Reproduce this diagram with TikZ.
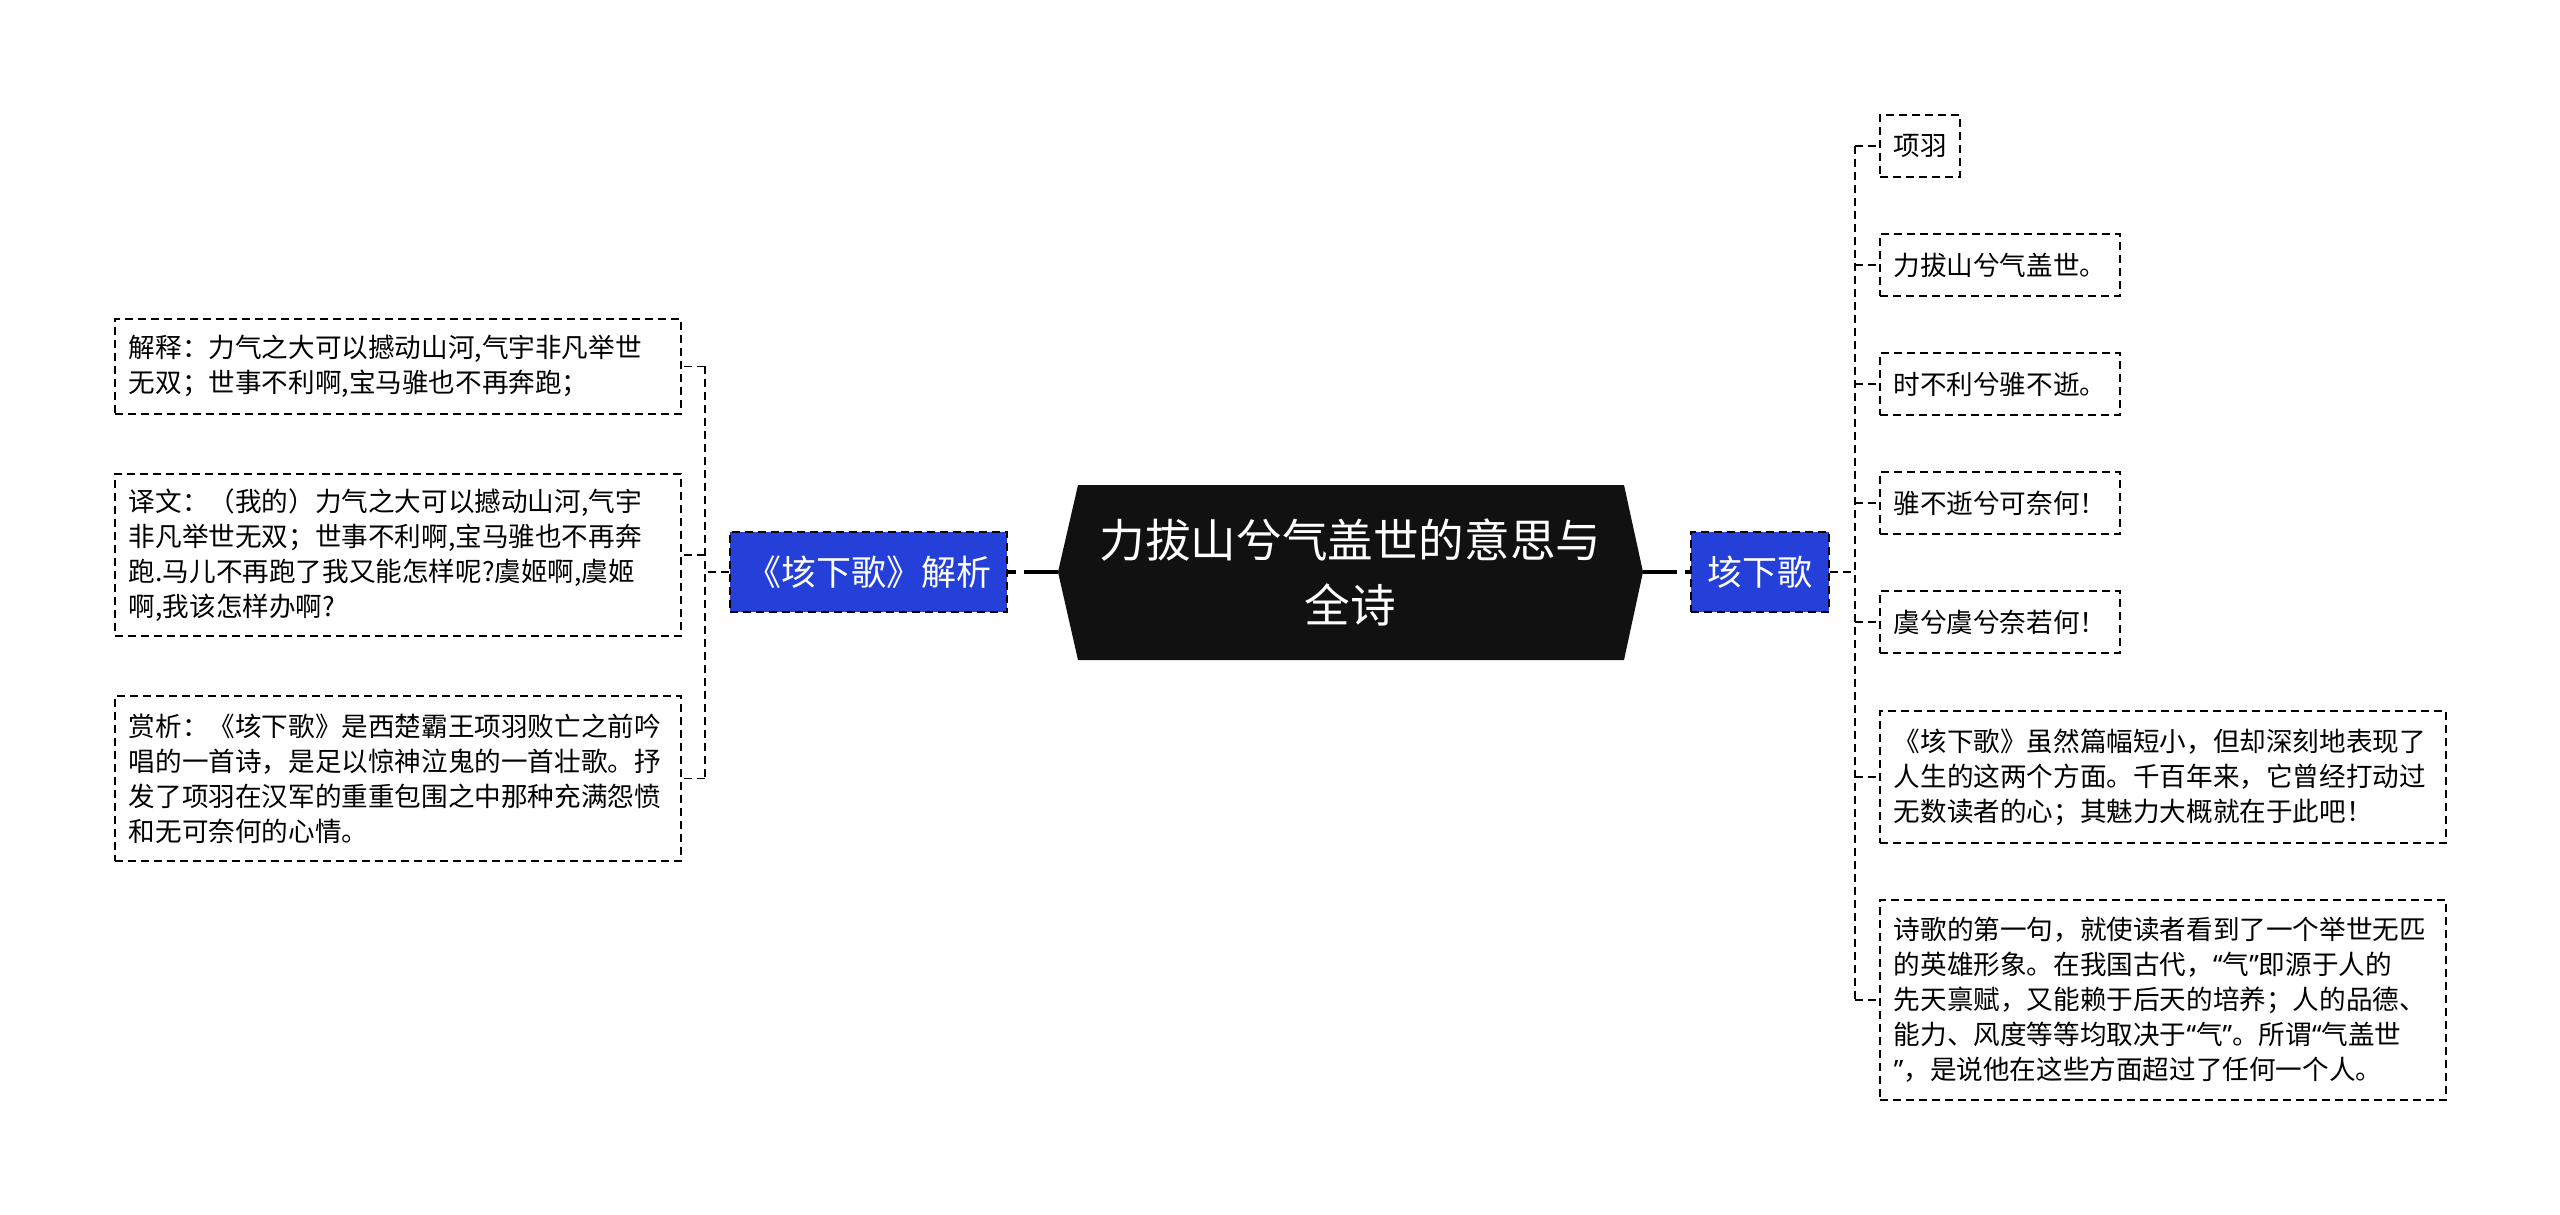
\documentclass[tikz,border=0pt]{standalone}
\usepackage{fontspec}
\setmainfont{Noto Sans CJK SC}
\newfontfamily\quotefont{Noto Sans}
\newcommand\qopen{{\quotefont “}}
\newcommand\qclose{{\quotefont ”}}
\definecolor{topicblue}{RGB}{36,64,216}
\definecolor{rootblack}{RGB}{17,17,17}
\tikzset{
  root/.style={minimum width=292.5pt, minimum height=87.5pt, inner sep=0pt, text=white, align=center,
    font=\fontsize{22.8}{32.5}\selectfont},
  topic/.style={draw, fill=topicblue, dash pattern=on 4pt off 2.5pt, line width=0.9pt, text=white,
    minimum height=40pt, inner sep=0pt, font=\fontsize{17.5}{22}\selectfont},
  verse/.style={draw, dash pattern=on 4pt off 2.5pt, line width=0.9pt, inner xsep=6.75pt, inner ysep=0pt,
    minimum height=31pt, font=\fontsize{13.3}{17.5}\selectfont},
  note/.style={verse, anchor=north west, text width=269pt, inner xsep=7pt, align=left},
  link/.style={dash pattern=on 4pt off 2.5pt, line width=0.9pt},
  trunk/.style={dash pattern=on 17pt off 4pt, line width=1.6pt},
}
\begin{document}
\begin{tikzpicture}[x=0.5pt, y=-0.5pt]
    \useasboundingbox (0,0) rectangle (2560,1215);
    % centre
    \fill[rootblack] (1058,572) -- (1078,485) -- (1624,485) -- (1643,572) -- (1624,660) -- (1078,660) -- cycle;
    \node[root] (root) at (1350.5,572) {力拔山兮气盖世的意思与\\全诗};
    \node[topic, minimum width=138.5pt] (analysis) at (868.5,572) {《垓下歌》解析};
    \node[topic, minimum width=69pt] (poem) at (1760,572) {垓下歌};
    \draw[trunk] (root.west) -- (analysis.east);
    \draw[trunk] (root.east) -- (poem.west);

    % left notes
    \node[note, minimum height=47.5pt] (explain) at (114,318)
      {解释：力气之大可以撼动山河,气宇非凡举世\\无双；世事不利啊,宝马骓也不再奔跑；};
    \node[note, minimum height=81pt] (translate) at (114,473)
      {译文：（我的）力气之大可以撼动山河,气宇\\非凡举世无双；世事不利啊,宝马骓也不再奔\\跑.马儿不再跑了我又能怎样呢?虞姬啊,虞姬\\啊,我该怎样办啊?};
    \node[note, minimum height=82.5pt] (appreciate) at (114,695)
      {赏析：《垓下歌》是西楚霸王项羽败亡之前吟\\唱的一首诗，是足以惊神泣鬼的一首壮歌。抒\\发了项羽在汉军的重重包围之中那种充满怨愤\\和无可奈何的心情。};
    \coordinate (lspine) at (705,572);
    \draw[link] (analysis.west) -- (lspine);
    \draw[link] (explain.east -| lspine) -- (appreciate.east -| lspine);
    \foreach \n in {explain, translate, appreciate}
        \draw[link] (\n.east -| lspine) -- (\n.east);

    % right verses
    \coordinate (rspine) at (1855,572);
    \draw[link] (poem.east) -- (rspine);
    \foreach \txt [count=\i] in {项羽, 力拔山兮气盖世。, 时不利兮骓不逝。, 骓不逝兮可奈何！, 虞兮虞兮奈若何！} {
        \node[verse, anchor=west] (verse\i) at (1879, 27 + 119*\i) {\txt};
        \draw[link] (verse\i.west -| rspine) -- (verse\i.west);
      }
    \node[note, minimum height=66pt] (comment) at (1879,710)
      {《垓下歌》虽然篇幅短小，但却深刻地表现了\\人生的这两个方面。千百年来，它曾经打动过\\无数读者的心；其魅力大概就在于此吧！};
    \node[note, minimum height=100pt] (firstline) at (1879,899)
      {诗歌的第一句，就使读者看到了一个举世无匹\\的英雄形象。在我国古代，\qopen 气\qclose 即源于人的\\先天禀赋，又能赖于后天的培养；人的品德、\\能力、风度等等均取决于\qopen 气\qclose 。所谓\qopen 气盖世\\\qclose ，是说他在这些方面超过了任何一个人。};
    \draw[link] (verse1.west -| rspine) -- (firstline.west -| rspine);
    \draw[link] (comment.west -| rspine) -- (comment.west);
    \draw[link] (firstline.west -| rspine) -- (firstline.west);
  \end{tikzpicture}
\end{document}
